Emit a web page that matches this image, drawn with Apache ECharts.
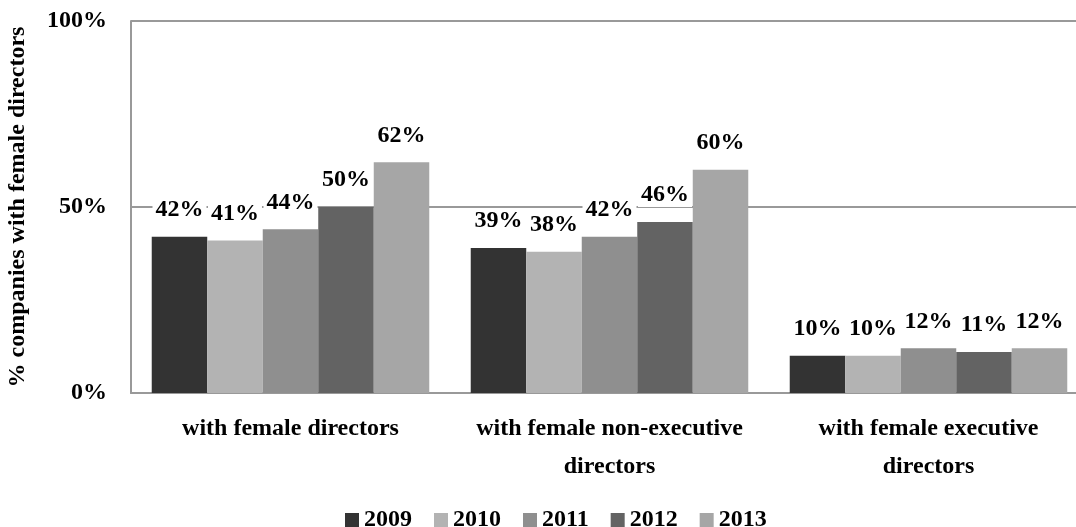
<!DOCTYPE html>
<html>
<head>
<meta charset="utf-8">
<script src="https://cdn.jsdelivr.net/npm/echarts@6/dist/echarts.min.js"></script>
<style>
  html, body { margin: 0; padding: 0; background: #fff; }
  #chart { width: 1076px; height: 527px; }
</style>
</head>
<body>
<div id="chart"></div>
<script>
// categories and values
const categories = ['with female directors', 'with female non-executive\ndirectors', 'with female executive\ndirectors']
const years = ['2009', '2010', '2011', '2012', '2013']
const v2009 = [42, 39, 10]
const v2010 = [41, 38, 10]
const v2011 = [44, 42, 12]
const v2012 = [50, 46, 11]
const v2013 = [62, 60, 12]
const yTicks = [0, 50, 100]

const colors = ['#333333', '#b3b3b3', '#8f8f8f', '#636363', '#a6a6a6']
const font = 'Liberation Serif'

const chart = echarts.init(document.getElementById('chart'))
const seriesData = [v2009, v2010, v2011, v2012, v2013]

chart.setOption({
  animation: false,
  color: colors,
  textStyle: { fontFamily: font },
  // plot runs past the right edge, like the original export
  grid: { left: 131, right: -12, top: 21, bottom: 134, outerBoundsMode: 'none' },
  legend: {
    bottom: -10,
    left: 340,
    itemWidth: 14,
    itemHeight: 14,
    itemGap: 22,
    icon: 'rect',
    textStyle: { fontFamily: font, fontWeight: 'bold', fontSize: 24, color: '#000' },
    data: years
  },
  xAxis: {
    type: 'category',
    data: categories,
    axisLine: { lineStyle: { color: '#999', width: 2 } },
    axisTick: { show: false },
    axisLabel: {
      interval: 0,
      margin: 17,
      fontFamily: font,
      fontWeight: 'bold',
      fontSize: 24,
      lineHeight: 38,
      color: '#000'
    }
  },
  yAxis: {
    type: 'value',
    min: yTicks[0],
    max: yTicks[yTicks.length - 1],
    interval: 50,
    name: '% companies with female directors',
    nameLocation: 'middle',
    nameGap: 101,
    nameTextStyle: { fontFamily: font, fontWeight: 'bold', fontSize: 24, color: '#000' },
    axisLine: { show: true, lineStyle: { color: '#999', width: 2 } },
    axisTick: { show: false },
    splitLine: { lineStyle: { color: '#999', width: 2 } },
    axisLabel: {
      margin: 24,
      formatter: '{value}%',
      fontFamily: font,
      fontWeight: 'bold',
      fontSize: 24,
      color: '#000'
    }
  },
  series: years.map((y, i) => ({
    name: y,
    type: 'bar',
    data: seriesData[i],
    barGap: '0%',
    barCategoryGap: '13%',
    label: {
      show: true,
      position: 'top',
      distance: 15,
      formatter: '{c}%',
      fontFamily: font,
      fontWeight: 'bold',
      fontSize: 24,
      color: '#000',
      backgroundColor: '#fff',
      padding: [0, 3]
    }
  }))
})
</script>
</body>
</html>
